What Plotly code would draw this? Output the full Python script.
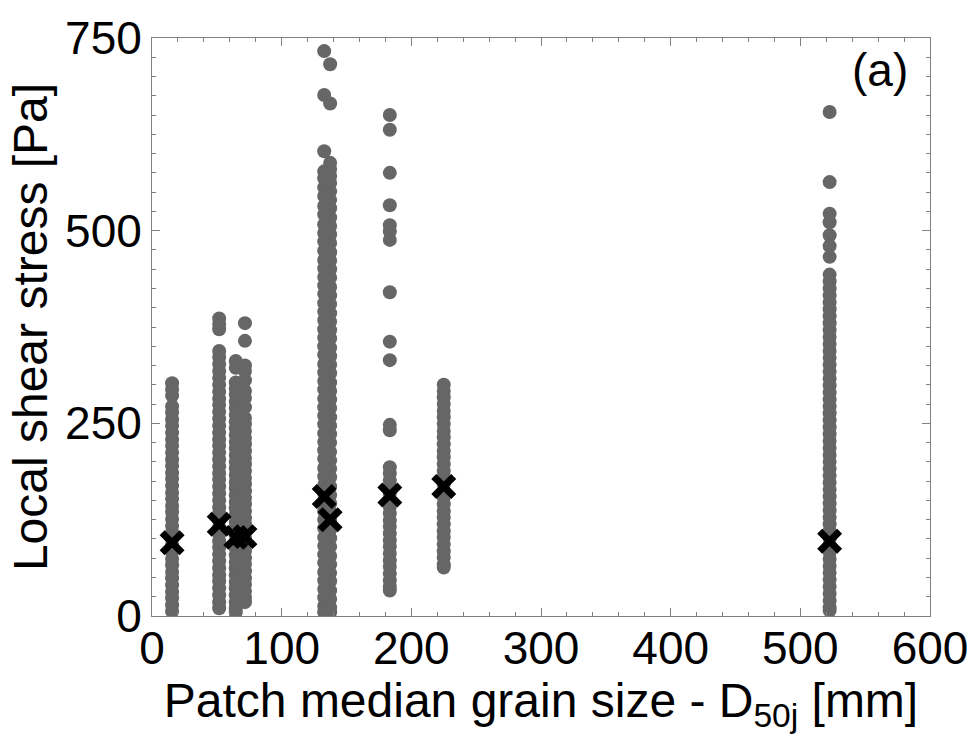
import plotly.graph_objects as go

# Patch median grain size D50j [mm] for each patch
d50_mm = [15.5, 51.8, 64.6, 71.7, 132.8, 137.4, 183.4, 225.0, 522.6]

# Local shear stress values [Pa] read for each patch
tau_p1 = [302, 294, 286, 272, 264, 255, 247, 238, 229, 221, 212, 203, 195, 186, 178, 169, 160, 152,
          143, 135, 126, 117, 109, 100, 92, 83, 74, 66, 57, 49, 40, 31, 23, 14, 6]
tau_p2 = [386, 379, 372, 344, 336, 327, 318, 309, 300, 291, 282, 274, 265, 256, 247, 238, 229, 221,
          212, 203, 194, 185, 177, 168, 159, 150, 141, 133, 124, 115, 106, 97, 89, 80, 71, 62, 53,
          45, 36, 27, 18, 10]
tau_p3 = [331, 322, 303, 295, 287, 278, 270, 261, 252, 244, 235, 226, 218, 209, 200, 192, 183, 174,
          166, 157, 148, 140, 131, 122, 114, 105, 96, 88, 79, 70, 62, 53, 44, 36, 27, 18, 10, 5]
tau_p4 = [380, 357, 325, 318, 306, 292, 283, 271, 257, 249, 240, 231, 223, 214, 205, 197, 188, 179,
          171, 162, 153, 145, 136, 127, 119, 110, 101, 93, 84, 75, 67, 58, 49, 41, 32, 24, 18]
tau_p5 = [733, 676, 603, 577, 568, 556, 545, 532, 521, 508, 497, 486, 474, 462, 451, 440, 429, 418,
          406, 395, 384, 372, 361, 350, 339, 327, 316, 305, 294, 282, 271, 260, 249, 237, 226, 215,
          204, 192, 181, 170, 159, 147, 136, 125, 114, 102, 91, 80, 69, 57, 46, 35, 24, 13, 5]
tau_p6 = [716, 665, 588, 580, 571, 562, 551, 540, 529, 517, 506, 495, 484, 472, 461, 450, 439, 427,
          416, 405, 393, 382, 371, 360, 348, 337, 326, 315, 303, 292, 281, 270, 258, 247, 236, 225,
          213, 202, 191, 180, 168, 157, 146, 135, 123, 112, 101, 90, 78, 67, 56, 45, 33, 22, 11, 5]
tau_p7 = [650, 631, 575, 533, 507, 499, 488, 420, 356, 332, 248, 241, 193, 185, 176, 168, 159, 150,
          142, 133, 124, 116, 107, 98, 90, 81, 72, 64, 55, 46, 38, 33]
tau_p8 = [300, 292, 284, 275, 266, 258, 249, 240, 232, 223, 214, 206, 197, 188, 180, 171, 162, 154,
          145, 136, 128, 119, 110, 102, 93, 84, 76, 67, 63]
tau_p9 = [654, 563, 522, 511, 494, 480, 466, 443, 434, 425, 416, 407, 398, 389, 380, 371, 362, 353,
          344, 335, 326, 317, 308, 299, 290, 281, 272, 263, 254, 245, 236, 227, 218, 209, 200, 191,
          182, 173, 164, 155, 146, 137, 128, 119, 110, 101, 92, 83, 74, 65, 56, 47, 38, 29, 20, 11, 7]

# Median local shear stress per patch [Pa]
tau_median = [95, 119, 102, 103, 155, 125, 157, 168, 97]

tau_patches = [tau_p1, tau_p2, tau_p3, tau_p4, tau_p5, tau_p6, tau_p7, tau_p8, tau_p9]

xs, ys = [], []
for d, vals in zip(d50_mm, tau_patches):
    xs.extend([d] * len(vals))
    ys.extend(vals)

FONT = "Liberation Sans, Arial, sans-serif"

fig = go.Figure()
fig.add_trace(go.Scatter(
    x=xs, y=ys, mode="markers",
    marker=dict(color="#666666", size=14, line=dict(width=0)),
    showlegend=False, hoverinfo="x+y",
))
fig.add_trace(go.Scatter(
    x=d50_mm, y=tau_median, mode="markers",
    marker=dict(symbol="x-thin", size=20, color="black", line=dict(color="black", width=7)),
    showlegend=False,
))

axis_common = dict(
    showline=True, linecolor="#808080", linewidth=1, mirror="allticks",
    ticks="inside", ticklen=8, tickwidth=1, tickcolor="#808080",
    showgrid=False, zeroline=False,
    tickfont=dict(family=FONT, size=46, color="black"),
    ticklabelposition="outside",
)

fig.update_layout(
    width=980, height=742,
    margin=dict(l=152, r=45, t=30, b=126),
    paper_bgcolor="white", plot_bgcolor="white",
    font=dict(family=FONT, color="black"),
    xaxis=dict(
        range=[0, 600], tickmode="linear", tick0=0, dtick=100,
        minor=dict(ticks="inside", dtick=20, ticklen=4, tickcolor="#808080"),
        title=dict(text="Patch median grain size - D<sub>50j</sub> [mm]",
                   font=dict(family=FONT, size=48, color="black"), standoff=0),
        ticklabelstandoff=-8,
        **axis_common,
    ),
    yaxis=dict(
        range=[0, 750], tickmode="linear", tick0=0, dtick=250,
        minor=dict(ticks="inside", dtick=25, ticklen=4, tickcolor="#808080"),
        title=dict(text="Local shear stress [Pa]",
                   font=dict(family=FONT, size=48, color="black"), standoff=2),
        ticklabelstandoff=0,
        **axis_common,
    ),
    annotations=[dict(
        text="(a)", xref="paper", yref="paper", x=0.936, y=0.945,
        xanchor="center", yanchor="middle", showarrow=False,
        font=dict(family=FONT, size=46, color="black"),
    )],
)

fig.write_html("out.html")
